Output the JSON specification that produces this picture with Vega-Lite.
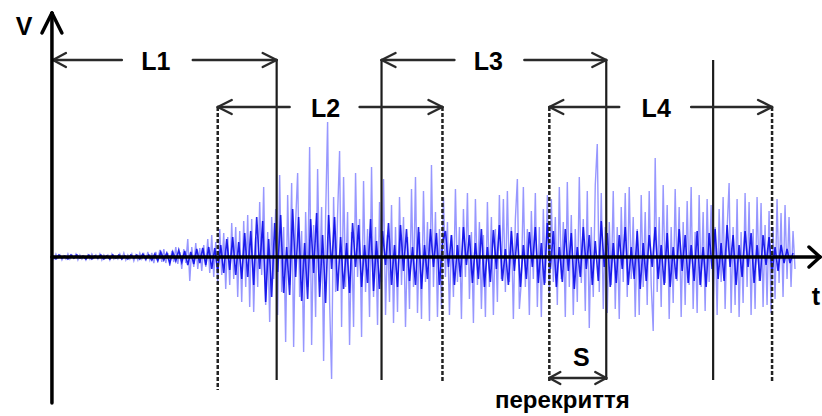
{
"$schema":"https://vega.github.io/schema/vega-lite/v6.json",
"width":822,"height":416,"padding":0,
"autosize":{"type":"fit","contains":"padding"},
"config":{"view":{"stroke":null},"background":"white"},
"datasets":{
"light":[
{"t":0,"v":2},{"t":2,"v":-2},{"t":4,"v":3},{"t":6,"v":-1},{"t":8,"v":2},{"t":10,"v":-3},{"t":12,"v":1},{"t":14,"v":-2},{"t":16,"v":3},{"t":18,"v":-2},
{"t":20,"v":2},{"t":22,"v":-1},{"t":24,"v":3},{"t":26,"v":-3},{"t":28,"v":2},{"t":30,"v":-2},{"t":32,"v":1},{"t":34,"v":-3},{"t":36,"v":2},{"t":38,"v":-2},
{"t":40,"v":3},{"t":42,"v":-1},{"t":44,"v":2},{"t":46,"v":-2},{"t":48,"v":3},{"t":50,"v":-3},{"t":52,"v":2},{"t":54,"v":-1},{"t":56,"v":2},{"t":58,"v":-3},
{"t":60,"v":3},{"t":62,"v":-2},{"t":64,"v":1},{"t":66,"v":-2},{"t":68,"v":3},{"t":70,"v":-2},{"t":72,"v":4},{"t":74,"v":-3},{"t":76,"v":2},{"t":78,"v":-2},
{"t":80,"v":3},{"t":82,"v":-4},{"t":84,"v":2},{"t":86,"v":-3},{"t":88,"v":4},{"t":90,"v":-2},{"t":92,"v":3},{"t":94,"v":-4},{"t":96,"v":5},{"t":98,"v":-3},
{"t":100,"v":4},{"t":102,"v":-6},{"t":104,"v":5},{"t":106,"v":-3},{"t":108,"v":7},{"t":110,"v":-5},{"t":112,"v":8},{"t":114,"v":-6},{"t":116,"v":4},{"t":118,"v":-9},
{"t":120,"v":6},{"t":122,"v":-5},{"t":124,"v":10},{"t":126,"v":-7},{"t":128,"v":5},{"t":130,"v":-12},{"t":132,"v":8},{"t":134,"v":-6},{"t":136,"v":18},{"t":138,"v":-24},
{"t":140,"v":10},{"t":142,"v":-10},{"t":144,"v":14},{"t":146,"v":-12},{"t":148,"v":9},
{"t":150,"v":-14},{"t":152,"v":12},{"t":154,"v":-10},{"t":156,"v":18},{"t":158,"v":-16},{"t":160,"v":22},{"t":162,"v":-20},{"t":164,"v":15},{"t":166,"v":-26},{"t":168,"v":28},
{"t":170,"v":-18},{"t":172,"v":24},{"t":174,"v":-32},{"t":176,"v":20},{"t":178,"v":-28},{"t":180,"v":34},{"t":182,"v":-22},{"t":184,"v":30},{"t":186,"v":-40},{"t":188,"v":26},
{"t":190,"v":-45},{"t":192,"v":36},{"t":194,"v":-30},{"t":196,"v":42},{"t":198,"v":-50},
{"t":200,"v":38},{"t":202,"v":-55},{"t":204,"v":20},{"t":206,"v":-30},{"t":208,"v":55},{"t":210,"v":-18},{"t":212,"v":70},{"t":214,"v":-48},{"t":216,"v":25},{"t":218,"v":-65},
{"t":220,"v":40},{"t":222,"v":-22},{"t":224,"v":48},{"t":226,"v":-58},{"t":228,"v":82},{"t":230,"v":-35},{"t":232,"v":30},{"t":234,"v":-85},{"t":236,"v":62},{"t":238,"v":-28},
{"t":240,"v":74},{"t":242,"v":-90},{"t":244,"v":35},{"t":246,"v":84},{"t":248,"v":-40},{"t":250,"v":26},{"t":252,"v":-95},{"t":254,"v":45},{"t":256,"v":-30},{"t":258,"v":110},
{"t":260,"v":-88},{"t":262,"v":32},{"t":264,"v":-60},{"t":266,"v":88},{"t":268,"v":-25},{"t":270,"v":50},{"t":272,"v":-104},{"t":274,"v":40},{"t":276,"v":135},{"t":278,"v":-45},
{"t":280,"v":-122},{"t":282,"v":60},{"t":284,"v":-35},{"t":286,"v":42},{"t":288,"v":106},{"t":290,"v":-70},
{"t":292,"v":80},{"t":294,"v":-30},{"t":296,"v":45},{"t":298,"v":-88},{"t":300,"v":25},{"t":302,"v":-70},{"t":304,"v":84},{"t":306,"v":-20},{"t":308,"v":38},{"t":310,"v":-80},
{"t":312,"v":76},{"t":314,"v":-35},{"t":316,"v":28},{"t":318,"v":-60},{"t":320,"v":90},{"t":322,"v":-40},{"t":324,"v":30},{"t":326,"v":-68},{"t":328,"v":55},{"t":330,"v":-25},
{"t":332,"v":78},{"t":334,"v":-58},{"t":336,"v":22},{"t":338,"v":-45},{"t":340,"v":52},{"t":342,"v":-66},{"t":344,"v":30},{"t":346,"v":-55},{"t":348,"v":60},{"t":350,"v":-28},
{"t":352,"v":40},{"t":354,"v":-70},{"t":356,"v":20},{"t":358,"v":-52},{"t":360,"v":68},{"t":362,"v":-30},{"t":364,"v":80},{"t":366,"v":-56},{"t":368,"v":25},{"t":370,"v":-62},
{"t":372,"v":66},{"t":374,"v":-25},{"t":376,"v":35},{"t":378,"v":-64},{"t":380,"v":92},{"t":382,"v":-30},{"t":384,"v":45},{"t":386,"v":-60},{"t":388,"v":28},{"t":390,"v":-52},
{"t":392,"v":60},{"t":394,"v":-20},{"t":396,"v":35},{"t":398,"v":-58},{"t":400,"v":22},{"t":402,"v":-40},{"t":404,"v":68},{"t":406,"v":-25},{"t":408,"v":30},{"t":410,"v":-62},
{"t":412,"v":48},{"t":414,"v":-20},{"t":416,"v":64},{"t":418,"v":-42},{"t":420,"v":25},{"t":422,"v":-66},{"t":424,"v":58},{"t":426,"v":-28},{"t":428,"v":35},{"t":430,"v":-52},
{"t":432,"v":22},{"t":434,"v":-60},{"t":436,"v":55},{"t":438,"v":-30},{"t":440,"v":40},{"t":442,"v":-58},{"t":444,"v":28},{"t":446,"v":-45},{"t":448,"v":62},{"t":450,"v":-22},
{"t":452,"v":58},{"t":454,"v":-35},{"t":456,"v":66},{"t":458,"v":-25},{"t":460,"v":30},{"t":462,"v":-62},{"t":464,"v":38},{"t":466,"v":78},{"t":468,"v":-52},{"t":470,"v":-24},
{"t":472,"v":70},{"t":474,"v":-30},{"t":476,"v":28},{"t":478,"v":-58},{"t":480,"v":46},{"t":482,"v":-22},{"t":484,"v":64},{"t":486,"v":-50},{"t":488,"v":30},{"t":490,"v":-60},
{"t":492,"v":48},{"t":494,"v":-26},{"t":496,"v":62},{"t":498,"v":-40},
{"t":500,"v":58},{"t":502,"v":-25},{"t":504,"v":40},{"t":506,"v":-48},{"t":508,"v":70},{"t":510,"v":-22},{"t":512,"v":35},{"t":514,"v":-60},{"t":516,"v":75},{"t":518,"v":-30},
{"t":520,"v":42},{"t":522,"v":-58},{"t":524,"v":28},{"t":526,"v":-45},{"t":528,"v":80},{"t":530,"v":-26},{"t":532,"v":38},{"t":534,"v":-54},{"t":536,"v":66},{"t":538,"v":-71},
{"t":540,"v":30},{"t":542,"v":-40},{"t":544,"v":72},{"t":546,"v":113},{"t":548,"v":-35},{"t":550,"v":64},{"t":552,"v":-52},{"t":554,"v":30},
{"t":556,"v":-56},{"t":558,"v":35},{"t":560,"v":-28},{"t":562,"v":66},{"t":564,"v":-52},{"t":566,"v":30},{"t":568,"v":-62},{"t":570,"v":50},{"t":572,"v":-25},{"t":574,"v":64},
{"t":576,"v":-40},{"t":578,"v":70},{"t":580,"v":-22},{"t":582,"v":40},{"t":584,"v":-60},{"t":586,"v":28},{"t":588,"v":-58},{"t":590,"v":62},{"t":592,"v":-30},{"t":594,"v":45},
{"t":596,"v":-48},{"t":598,"v":66},{"t":600,"v":-28},{"t":602,"v":-74},{"t":604,"v":99},{"t":606,"v":-35},{"t":608,"v":40},{"t":610,"v":-50},{"t":612,"v":72},{"t":614,"v":-26},
{"t":616,"v":52},{"t":618,"v":-62},{"t":620,"v":30},{"t":622,"v":-46},{"t":624,"v":68},{"t":626,"v":-24},{"t":628,"v":50},{"t":630,"v":-60},{"t":632,"v":35},{"t":634,"v":-48},
{"t":636,"v":56},{"t":638,"v":-28},{"t":640,"v":70},{"t":642,"v":-52},{"t":644,"v":25},{"t":646,"v":-56},{"t":648,"v":62},{"t":650,"v":-30},{"t":652,"v":45},{"t":654,"v":-54},
{"t":656,"v":58},{"t":658,"v":-25},{"t":660,"v":52},
{"t":662,"v":-50},{"t":664,"v":30},{"t":666,"v":-58},{"t":668,"v":48},{"t":670,"v":-25},{"t":672,"v":60},{"t":674,"v":-52},{"t":676,"v":28},{"t":678,"v":74},{"t":680,"v":-56},
{"t":682,"v":30},{"t":684,"v":-48},{"t":686,"v":58},{"t":688,"v":-60},{"t":690,"v":25},{"t":692,"v":-46},{"t":694,"v":64},{"t":696,"v":-30},{"t":698,"v":55},{"t":700,"v":-58},
{"t":702,"v":28},{"t":704,"v":-52},{"t":706,"v":60},{"t":708,"v":-24},{"t":710,"v":54},{"t":712,"v":-50},{"t":714,"v":32},{"t":716,"v":-48},{"t":718,"v":46},{"t":720,"v":-56},
{"t":722,"v":30},{"t":724,"v":-42},{"t":726,"v":58},{"t":728,"v":-26},{"t":730,"v":44},{"t":732,"v":-40},{"t":734,"v":52},{"t":736,"v":-22},{"t":738,"v":40},{"t":740,"v":-30},{"t":742,"v":26},{"t":744,"v":-12}
],
"dark":[
{"t":1,"v":1},{"t":4,"v":-2},{"t":7,"v":2},{"t":10,"v":-1},{"t":13,"v":1},{"t":16,"v":-2},{"t":19,"v":2},{"t":22,"v":-1},{"t":25,"v":2},{"t":28,"v":-1},
{"t":31,"v":1},{"t":34,"v":-2},{"t":37,"v":2},{"t":40,"v":-2},{"t":43,"v":1},{"t":46,"v":-1},{"t":49,"v":2},{"t":52,"v":-2},{"t":55,"v":1},{"t":58,"v":-2},
{"t":61,"v":2},{"t":64,"v":-1},{"t":67,"v":2},{"t":70,"v":-2},{"t":73,"v":1},{"t":76,"v":-2},{"t":79,"v":2},{"t":82,"v":-1},{"t":85,"v":2},{"t":88,"v":-2},
{"t":91,"v":3},{"t":94,"v":-2},{"t":97,"v":2},{"t":100,"v":-3},
{"t":103,"v":3},{"t":106,"v":-4},{"t":109,"v":5},{"t":112,"v":-3},{"t":115,"v":4},{"t":118,"v":-6},{"t":121,"v":5},{"t":124,"v":-4},{"t":127,"v":7},{"t":130,"v":-5},
{"t":133,"v":6},{"t":136,"v":-8},{"t":139,"v":5},{"t":142,"v":-7},{"t":145,"v":8},{"t":148,"v":-6},{"t":151,"v":9},
{"t":154,"v":-8},{"t":157,"v":10},{"t":160,"v":-12},{"t":163,"v":9},{"t":166,"v":-14},{"t":169,"v":12},{"t":172,"v":-16},{"t":175,"v":18},{"t":178,"v":-13},{"t":181,"v":20},
{"t":184,"v":-18},{"t":187,"v":15},{"t":190,"v":-22},{"t":193,"v":24},{"t":196,"v":-20},{"t":199,"v":26},
{"t":202,"v":-28},{"t":205,"v":40},{"t":208,"v":-12},{"t":211,"v":36},{"t":214,"v":-45},{"t":217,"v":18},{"t":220,"v":-40},{"t":223,"v":34},{"t":226,"v":-15},{"t":229,"v":42},
{"t":232,"v":-36},{"t":235,"v":10},{"t":238,"v":-38},{"t":241,"v":48},{"t":244,"v":-20},{"t":247,"v":40},{"t":250,"v":-44},{"t":253,"v":14},{"t":256,"v":-42},{"t":259,"v":38},
{"t":262,"v":-16},{"t":265,"v":44},{"t":268,"v":-40},{"t":271,"v":22},{"t":274,"v":-46},{"t":277,"v":42},{"t":280,"v":-12},{"t":283,"v":40},{"t":286,"v":-34},{"t":289,"v":20},
{"t":292,"v":-32},{"t":295,"v":14},{"t":298,"v":-36},{"t":301,"v":34},{"t":304,"v":-10},{"t":307,"v":32},{"t":310,"v":-30},{"t":313,"v":12},{"t":316,"v":-26},{"t":319,"v":38},
{"t":322,"v":-34},{"t":325,"v":16},{"t":328,"v":-32},{"t":331,"v":26},{"t":334,"v":-8},{"t":337,"v":34},{"t":340,"v":-28},{"t":343,"v":12},{"t":346,"v":-30},{"t":349,"v":32},
{"t":352,"v":-14},{"t":355,"v":28},{"t":358,"v":-24},{"t":361,"v":10},{"t":364,"v":-28},{"t":367,"v":30},{"t":370,"v":-32},{"t":373,"v":12},{"t":376,"v":-22},{"t":379,"v":28},
{"t":382,"v":-10},{"t":385,"v":24},{"t":388,"v":-28},{"t":391,"v":14},
{"t":394,"v":26},{"t":397,"v":-10},{"t":400,"v":22},{"t":403,"v":-28},{"t":406,"v":12},{"t":409,"v":-20},{"t":412,"v":30},{"t":415,"v":-8},{"t":418,"v":22},{"t":421,"v":-26},
{"t":424,"v":14},{"t":427,"v":-22},{"t":430,"v":28},{"t":433,"v":-30},{"t":436,"v":10},{"t":439,"v":-25},{"t":442,"v":27},{"t":445,"v":-12},{"t":448,"v":32},{"t":451,"v":-24},
{"t":454,"v":8},{"t":457,"v":-28},{"t":460,"v":26},{"t":463,"v":-14},{"t":466,"v":24},{"t":469,"v":-30},{"t":472,"v":12},{"t":475,"v":-22},{"t":478,"v":25},{"t":481,"v":-10},
{"t":484,"v":30},{"t":487,"v":-26},{"t":490,"v":14},{"t":493,"v":-28},{"t":496,"v":34},{"t":499,"v":-12},{"t":502,"v":26},{"t":505,"v":-30},{"t":508,"v":10},{"t":511,"v":-25},
{"t":514,"v":28},{"t":517,"v":-14},{"t":520,"v":24},{"t":523,"v":-32},{"t":526,"v":10},{"t":529,"v":-20},{"t":532,"v":30},{"t":535,"v":-12},{"t":538,"v":22},{"t":541,"v":-28},
{"t":544,"v":16},{"t":547,"v":-24},{"t":550,"v":36},{"t":553,"v":-10},{"t":556,"v":24},{"t":559,"v":-30},{"t":562,"v":14},{"t":565,"v":-26},{"t":568,"v":22},{"t":571,"v":-12},
{"t":574,"v":30},{"t":577,"v":-28},{"t":580,"v":10},{"t":583,"v":-22},{"t":586,"v":26},{"t":589,"v":-32},{"t":592,"v":14},{"t":595,"v":-24},{"t":598,"v":22},{"t":601,"v":-10},
{"t":604,"v":30},{"t":607,"v":-22},{"t":610,"v":12},{"t":613,"v":-28},{"t":616,"v":24},{"t":619,"v":-30},{"t":622,"v":10},{"t":625,"v":-22},{"t":628,"v":28},{"t":631,"v":-14},
{"t":634,"v":22},{"t":637,"v":-26},{"t":640,"v":12},{"t":643,"v":-24},{"t":646,"v":26},{"t":649,"v":-28},{"t":652,"v":10},{"t":655,"v":-30},{"t":658,"v":24},{"t":661,"v":-12},
{"t":664,"v":28},{"t":667,"v":-22},{"t":670,"v":14},{"t":673,"v":-24},{"t":676,"v":32},{"t":679,"v":-10},{"t":682,"v":22},{"t":685,"v":-28},{"t":688,"v":12},{"t":691,"v":-20},
{"t":694,"v":26},{"t":697,"v":-10},{"t":700,"v":24},{"t":703,"v":-26},{"t":706,"v":12},{"t":709,"v":-24},{"t":712,"v":22},{"t":715,"v":-8},{"t":718,"v":20},{"t":721,"v":-16},
{"t":724,"v":10},{"t":727,"v":-14},{"t":730,"v":12},{"t":733,"v":-6},{"t":736,"v":8},{"t":739,"v":-6},{"t":742,"v":4}
],
"segs":[
{"g":"axis","t":0,"v":-146,"t2":0,"v2":244},
{"g":"axis","t":-10,"v":224,"t2":0,"v2":244},
{"g":"axis","t":10,"v":224,"t2":0,"v2":244},
{"g":"axis","t":0,"v":0,"t2":769,"v2":0},
{"g":"axis","t":758,"v":10,"t2":769,"v2":0},
{"g":"axis","t":758,"v":-10,"t2":769,"v2":0},
{"g":"solid","t":225,"v":197,"t2":225,"v2":-123},
{"g":"solid","t":330,"v":197,"t2":330,"v2":-123},
{"g":"solid","t":555,"v":197,"t2":555,"v2":-123},
{"g":"solid","t":662,"v":197,"t2":662,"v2":-123},
{"g":"dash","t":166,"v":150,"t2":166,"v2":-133},
{"g":"dash","t":391,"v":150,"t2":391,"v2":-125},
{"g":"dash","t":498,"v":150,"t2":498,"v2":-125},
{"g":"dash","t":721,"v":150,"t2":721,"v2":-125},
{"g":"arrow","t":1,"v":197,"t2":70,"v2":197},
{"g":"arrow","t":14,"v":204,"t2":1,"v2":197},
{"g":"arrow","t":14,"v":190,"t2":1,"v2":197},
{"g":"arrow","t":141,"v":197,"t2":225,"v2":197},
{"g":"arrow","t":211,"v":204,"t2":225,"v2":197},
{"g":"arrow","t":211,"v":190,"t2":225,"v2":197},
{"g":"arrow","t":166,"v":150,"t2":238,"v2":150},
{"g":"arrow","t":180,"v":157,"t2":166,"v2":150},
{"g":"arrow","t":180,"v":143,"t2":166,"v2":150},
{"g":"arrow","t":308,"v":150,"t2":391,"v2":150},
{"g":"arrow","t":377,"v":157,"t2":391,"v2":150},
{"g":"arrow","t":377,"v":143,"t2":391,"v2":150},
{"g":"arrow","t":330,"v":197,"t2":403,"v2":197},
{"g":"arrow","t":344,"v":204,"t2":330,"v2":197},
{"g":"arrow","t":344,"v":190,"t2":330,"v2":197},
{"g":"arrow","t":473,"v":197,"t2":555,"v2":197},
{"g":"arrow","t":541,"v":204,"t2":555,"v2":197},
{"g":"arrow","t":541,"v":190,"t2":555,"v2":197},
{"g":"arrow","t":498,"v":150,"t2":568,"v2":150},
{"g":"arrow","t":512,"v":157,"t2":498,"v2":150},
{"g":"arrow","t":512,"v":143,"t2":498,"v2":150},
{"g":"arrow","t":640,"v":150,"t2":721,"v2":150},
{"g":"arrow","t":707,"v":157,"t2":721,"v2":150},
{"g":"arrow","t":707,"v":143,"t2":721,"v2":150},
{"g":"arrow","t":498,"v":-121,"t2":555,"v2":-121},
{"g":"arrow","t":509,"v":-115,"t2":498,"v2":-121},
{"g":"arrow","t":509,"v":-127,"t2":498,"v2":-121},
{"g":"arrow","t":544,"v":-115,"t2":555,"v2":-121},
{"g":"arrow","t":544,"v":-127,"t2":555,"v2":-121}
],
"labels":[
{"k":"win","t":104,"v":195,"text":"L1"},
{"k":"win","t":274,"v":148,"text":"L2"},
{"k":"win","t":437,"v":195,"text":"L3"},
{"k":"win","t":605,"v":148,"text":"L4"},
{"k":"axis","t":-28,"v":230,"text":"V"},
{"k":"axis","t":765,"v":-40,"text":"t"},
{"k":"s","t":530,"v":-101,"text":"S"},
{"k":"note","t":511,"v":-144,"text":"перекриття"}
]
},
"encoding":{
"x":{"field":"t","type":"quantitative","scale":{"domain":[-52,770],"nice":false,"zero":false},"axis":null},
"y":{"field":"v","type":"quantitative","scale":{"domain":[-159,257],"nice":false,"zero":false},"axis":null}
},
"layer":[
{"data":{"name":"light"},"mark":{"type":"line","color":"#2f2fff","opacity":0.5,"strokeWidth":1.4}},
{"data":{"name":"dark"},"mark":{"type":"line","color":"#0000e8","opacity":0.85,"strokeWidth":1.6}},
{"data":{"name":"segs"},"transform":[{"filter":"datum.g==='solid'"}],"mark":{"type":"rule","color":"#1c1c1c","strokeWidth":2.2},"encoding":{"x2":{"field":"t2"},"y2":{"field":"v2"}}},
{"data":{"name":"segs"},"transform":[{"filter":"datum.g==='dash'"}],"mark":{"type":"rule","color":"#222222","strokeWidth":2.5,"strokeDash":[4,2]},"encoding":{"x2":{"field":"t2"},"y2":{"field":"v2"}}},
{"data":{"name":"segs"},"transform":[{"filter":"datum.g==='arrow'"}],"mark":{"type":"rule","color":"#2a2a2a","strokeWidth":2.4,"strokeCap":"round"},"encoding":{"x2":{"field":"t2"},"y2":{"field":"v2"}}},
{"data":{"name":"segs"},"transform":[{"filter":"datum.g==='axis'"}],"mark":{"type":"rule","color":"#000000","strokeWidth":3.5,"strokeCap":"round"},"encoding":{"x2":{"field":"t2"},"y2":{"field":"v2"}}},
{"data":{"name":"labels"},"transform":[{"filter":"datum.k==='win'"}],"mark":{"type":"text","font":"Liberation Sans","fontWeight":"bold","fontSize":25,"align":"center","baseline":"middle","color":"#000"},"encoding":{"text":{"field":"text"}}},
{"data":{"name":"labels"},"transform":[{"filter":"datum.k==='axis'"}],"mark":{"type":"text","font":"Liberation Sans","fontWeight":"bold","fontSize":25,"align":"center","baseline":"middle","color":"#000"},"encoding":{"text":{"field":"text"}}},
{"data":{"name":"labels"},"transform":[{"filter":"datum.k==='s'"}],"mark":{"type":"text","font":"Liberation Sans","fontWeight":"bold","fontSize":25,"align":"center","baseline":"middle","color":"#000"},"encoding":{"text":{"field":"text"}}},
{"data":{"name":"labels"},"transform":[{"filter":"datum.k==='note'"}],"mark":{"type":"text","font":"Liberation Sans","fontWeight":"bold","fontSize":24,"align":"center","baseline":"middle","color":"#000"},"encoding":{"text":{"field":"text"}}}
]
}
